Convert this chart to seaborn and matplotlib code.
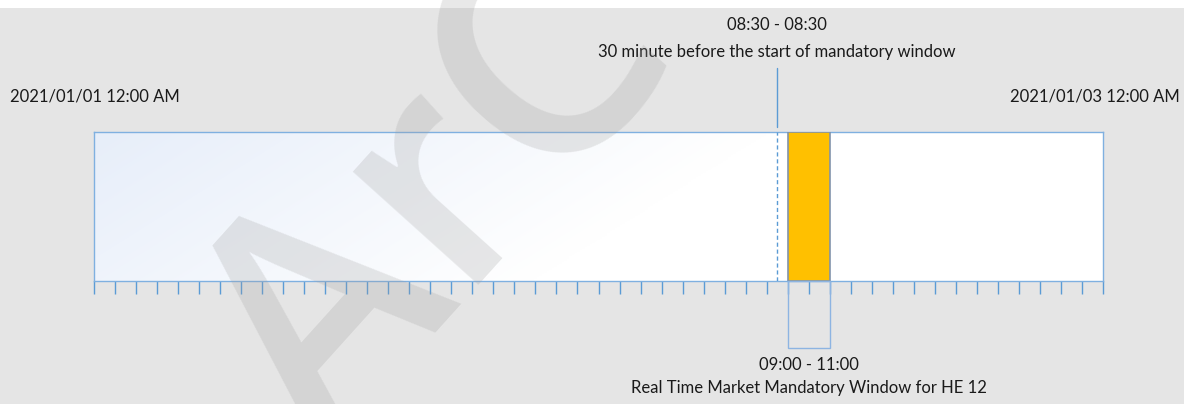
import numpy as np
import pandas as pd
import matplotlib
matplotlib.use("Agg")
import matplotlib.pyplot as plt
import seaborn as sns
from matplotlib.patches import Rectangle

# ---- data ----
range_start = "2021-01-01 00:00"
range_end = "2021-01-03 00:00"
window_start = "2021-01-02 09:00"
window_end = "2021-01-02 11:00"
marker_time = "2021-01-02 08:30"
tick_step_hours = 1
start_label = "2021/01/01 12:00 AM"
end_label = "2021/01/03 12:00 AM"
marker_title = "08:30 - 08:30"
marker_desc = "30 minute before the start of mandatory window"
window_title = "09:00 - 11:00"
window_desc = "Real Time Market Mandatory Window for HE 12"
watermark = "ArC"

t0 = pd.Timestamp(range_start)
def hrs(s):
    return (pd.Timestamp(s) - t0) / pd.Timedelta(hours=1)

total = hrs(range_end)
ws, we, mk = hrs(window_start), hrs(window_end), hrs(marker_time)
ticks = np.arange(0, total + tick_step_hours, tick_step_hours)

# ---- style ----
sns.set_theme(style="white")
plt.rcParams['font.family'] = ['Lato', 'DejaVu Sans']

W, H = 1184, 404
fig = plt.figure(figsize=(W / 100, H / 100), dpi=100, facecolor='white')
fig.patches.append(Rectangle((0, 0), 1, (H - 8) / H, transform=fig.transFigure,
                             facecolor='#e5e5e5', edgecolor='none', zorder=-10))

ax = fig.add_axes([94 / W, (H - 281) / H, 1009 / W, 149 / H])
ax.set_xlim(0, total)
ax.set_ylim(0, 1)

# gradient fill
nx, ny = 400, 100
u = np.linspace(0, 1, nx)
v = np.linspace(1, 0, ny)
s = np.clip(u[None, :] * 1.5 + (1 - v[:, None]) * 0.35, 0, 1)
blue = np.array([0.905, 0.933, 0.978])
img = blue[None, None, :] * (1 - s[:, :, None]) + 1.0 * s[:, :, None]
ax.imshow(img, extent=[0, total, 0, 1], aspect='auto', zorder=0)

edge = '#7fb0e0'
for sp in ax.spines.values():
    sp.set_color(edge)
    sp.set_linewidth(1)
ax.set_xticks(ticks)
ax.set_yticks([])
ax.tick_params(axis='x', bottom=True, direction='out', length=9.5, width=1,
               color='#5b9bd5', labelbottom=False)

# mandatory window
ax.axvspan(ws, we, facecolor='#ffc000', edgecolor='#8193ab', lw=1.2, zorder=3)
ax.add_patch(Rectangle((ws, -0.45), we - ws, 0.45, fill=False, edgecolor='#8db4e2',
                       lw=1, clip_on=False, zorder=3))

# marker
ax.axvline(mk, color='#5b9bd5', ls=(0, (3, 2)), lw=1, zorder=3)
ax.plot([mk, mk], [1.034, 1.43], color='#5b9bd5', lw=1, clip_on=False, zorder=3)

fs = 12
tc = '#1a1a1a'
ax.text(mk, 1.718, marker_title, ha='center', va='center', fontsize=fs, color=tc, clip_on=False)
ax.text(mk, 1.537, marker_desc, ha='center', va='center', fontsize=fs, color=tc, clip_on=False)
ax.text((ws + we) / 2, -0.564, window_title, ha='center', va='center', fontsize=fs, color=tc, clip_on=False)
ax.text((ws + we) / 2, -0.718, window_desc, ha='center', va='center', fontsize=fs, color=tc, clip_on=False)

fig.text(10 / W, 1 - 97 / H, start_label, ha='left', va='center', fontsize=fs, color=tc)
fig.text(1180 / W, 1 - 97 / H, end_label, ha='right', va='center', fontsize=fs, color=tc)

fig.text(0.375, 0.50, watermark, rotation=48, fontsize=225, fontweight='semibold',
         color=(0.62, 0.62, 0.62), alpha=0.24, ha='center', va='center', zorder=100,
         family=['Open Sans', 'DejaVu Sans'])

fig.savefig("out.png", dpi=100, facecolor='white')
